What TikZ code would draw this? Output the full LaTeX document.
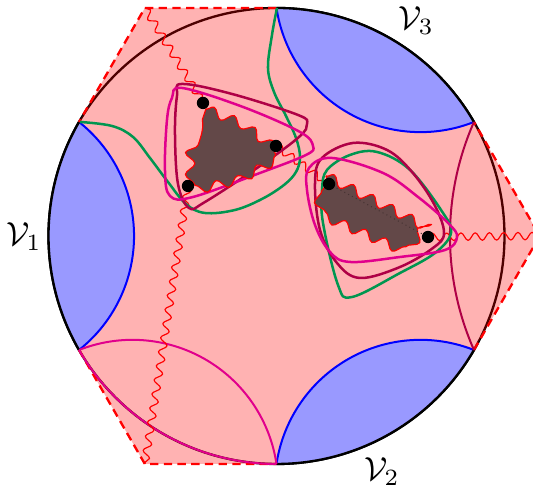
\documentclass[tikz,border=0pt]{standalone}
\usepackage{amsmath,amssymb}
\usetikzlibrary{decorations.pathmorphing,calc}
\definecolor{vblue}{RGB}{153,153,255}
\definecolor{wedgered}{RGB}{175,0,70}
\definecolor{wedgepink}{RGB}{225,0,140}
\definecolor{wedgegreen}{RGB}{0,150,80}
\definecolor{blobbrown}{RGB}{99,72,72}
\newcommand{\rdisk}{2.4}
\newcommand{\rgeo}{1.533}
\newcommand{\rtip}{2.7713}

\begin{document}
\begin{tikzpicture}[line join=round,
    rim/.style={black, line width=0.7pt},
    geo/.style={line width=0.6pt},
    surf/.style={line width=0.75pt},
    edge/.style={red, line width=0.7pt, dash pattern=on 2.5pt off 1.6pt},
    strand/.style={red, line width=0.35pt, decorate, decoration={snake, amplitude=0.4mm, segment length=1.5mm}},
    blob/.style={fill=blobbrown, draw=red, line width=0.35pt, decorate, decoration={snake, amplitude=0.5mm, segment length=2.3mm}},
    endpt/.style={circle, fill=black, inner sep=0pt, minimum size=1.3mm}]
  \path[use as bounding box] (-2.9105,-2.6316) rectangle (2.700,2.484);
  \clip (-2.9105,-2.6316) rectangle (2.700,2.484);
  % tips of the three outer triangles
  \foreach \a in {0,120,240} \coordinate (t\a) at (\a:\rtip);
  % boundary and bulk
  \draw[rim] (0,0) circle (\rdisk);
  \fill[red, fill opacity=0.3] (90:\rdisk) -- (t120) -- (150:\rdisk)
     arc[start angle=150, end angle=210, radius=\rdisk] -- (t240) -- (270:\rdisk)
     arc[start angle=270, end angle=330, radius=\rdisk] -- (t0) -- (30:\rdisk)
     arc[start angle=30, end angle=90, radius=\rdisk] -- cycle;
  % regions V_i
  \foreach \a/\b/\s/\e in {30/90/188.48/291.52, 150/210/308.48/411.52, 270/330/428.48/531.52} {
    \fill[vblue] (\b:\rdisk) arc[start angle=\s, end angle=\e, radius=\rgeo]
       arc[start angle=\a, end angle=\b, radius=\rdisk] -- cycle;
    \draw[blue, geo] (\b:\rdisk) arc[start angle=\s, end angle=\e, radius=\rgeo];
    \draw[rim] (\a:\rdisk) arc[start angle=\a, end angle=\b, radius=\rdisk];
  }
  % dashed edges
  \draw[edge] (90:\rdisk) -- (t120) -- (150:\rdisk);
  \draw[edge] (210:\rdisk) -- (t240) -- (270:\rdisk);
  \draw[edge] (-30:\rdisk) -- (t0) -- (30:\rdisk);
  % curves between the regions
  \draw[wedgered, geo] (30:\rdisk) arc[start angle=156.22, end angle=203.78, radius=2.976];
  \draw[wedgepink, geo] (270:\rdisk) arc[start angle=8.48, end angle=111.52, radius=\rgeo];
  \draw[wedgepink, geo] (210:\rdisk) arc[start angle=210, end angle=270, radius=\rdisk];
  % strands, surfaces and blobs (pixel grid)
  \begin{scope}[x=0.010526cm, y=-0.010526cm, shift={(-276.5,-236)}]
    \coordinate (d1) at (203,103);
    \coordinate (d2) at (276,146);
    \coordinate (d3) at (188,186);
    \coordinate (d4) at (329,184);
    \coordinate (d5) at (428,237);
    \draw[strand] (t120) -- (d1);
    \draw[strand] (d3) -- (t240);
    \draw[strand] (d2) -- (d4);
    \draw[strand] (d5) -- (t0);
    % surfaces round the left blob
    \draw[wedgegreen, surf] plot[smooth, tension=0.6] coordinates {(277,8) (272,35) (268,68) (274,92)
       (286,116) (296,138) (300,157) (296,172) (284,185) (262,199) (235,210) (205,213) (186,204)
       (168,182) (150,158) (133,137) (112,126) (80,122)};
    \draw[wedgered, surf] plot[smooth cycle, tension=0.6] coordinates {(182,84) (232,94) (298,115)
       (307,124) (299,137) (260,166) (205,202) (189,208) (178,184) (175,133) (177,96)};
    \draw[wedgepink, surf] plot[smooth cycle, tension=0.6] coordinates {(182,88) (243,107) (300,132)
       (313,146) (306,155) (260,173) (193,197) (170,196) (165,170) (167,120) (172,98)};
    % surfaces round the right blob
    \draw[wedgegreen, surf] plot[smooth cycle, tension=0.6] coordinates {(327,170) (350,155) (377,152)
       (410,170) (443,213) (451,233) (435,253) (400,273) (352,297) (338,285) (323,223) (322,190)};
    \draw[wedgered, surf] plot[smooth cycle, tension=0.6] coordinates {(353,143) (387,150) (412,172)
       (434,204) (444,233) (433,248) (400,267) (360,278) (337,263) (320,230) (315,183) (322,158)};
    \draw[wedgepink, surf] plot[smooth cycle, tension=0.6] coordinates {(309,168) (332,158) (383,173)
       (418,197) (448,223) (457,237) (445,250) (400,257) (350,262) (330,252) (315,225) (307,190)};
    % blobs
    \filldraw[blob] (206,109) -- (242,124) -- (273,147) -- (235,168) -- (195,177) -- (195,141) -- cycle;
    \filldraw[blob] (326,176) -- (428,228) -- (415,248) -- (332,212) -- cycle;
    \draw[blobbrown!70!black, densely dotted, line width=0.3pt] (d4) -- (d5);
    \foreach \d in {1,...,5} \node[endpt] (e\d) at (d\d) {};
  \end{scope}
  % labels
  \node (v1) at (-2.66,-0.01) {$\mathcal{V}_1$};
  \node (v2) at (1.11,-2.48) {$\mathcal{V}_2$};
  \node (v3) at (1.47,2.27) {$\mathcal{V}_3$};
\end{tikzpicture}
\end{document}
